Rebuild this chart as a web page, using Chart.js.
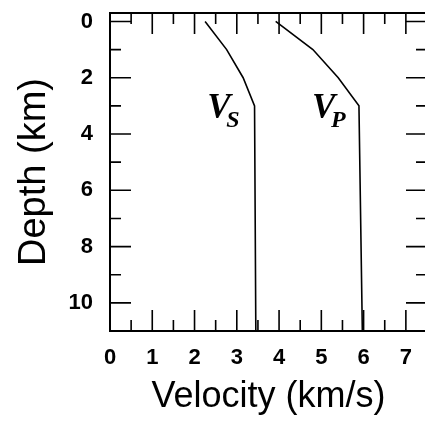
<!DOCTYPE html>
<html>
<head>
<meta charset="utf-8">
<script src="https://cdn.jsdelivr.net/npm/chart.js@4/dist/chart.umd.min.js"></script>
<style>
    html, body { margin: 0; padding: 0; background: #fff; overflow: hidden; }
    #profile-canvas { display: block; }
</style>
</head>
<body>
<canvas id="profile-canvas" width="440" height="425"></canvas>
<script>
/**==========================
     Velocity-depth profile
==========================*/

// shear wave velocity (km/s) against depth (km)
const vs_depth = [0, 1, 2, 3, 11];
const vs_velocity = [2.25, 2.76, 3.15, 3.42, 3.45];

// compressional wave velocity (km/s) against depth (km)
const vp_depth = [0, 1, 2, 3, 11];
const vp_velocity = [3.92, 4.8, 5.4, 5.89, 5.97];

// tick values
const velocity_ticks = [0, 1, 2, 3, 4, 5, 6, 7];
const velocity_minor_ticks = [0.5, 1.5, 2.5, 3.5, 4.5, 5.5, 6.5];
const depth_ticks = [0, 2, 4, 6, 8, 10];
const depth_minor_ticks = [1, 3, 5, 7, 9];

const major_tick_len = 21;
const minor_tick_len = 11;

function to_points(vel, depth) {
    return vel.map((v, i) => ({x: v, y: depth[i]}));
}

// frame, inward ticks on all four sides and the curve labels
const frame_plugin = {
    id: 'frame_plugin',
    afterDraw(chart) {
        let ctx = chart.ctx;
        let area = chart.chartArea;
        let xs = chart.scales.x;
        let ys = chart.scales.y;

        ctx.save();
        ctx.strokeStyle = '#000';
        ctx.lineWidth = 1.6;
        ctx.beginPath();

        let tick_x = (v, len) => {
            let px = xs.getPixelForValue(v);
            ctx.moveTo(px, area.bottom);
            ctx.lineTo(px, area.bottom - len);
            ctx.moveTo(px, area.top);
            ctx.lineTo(px, area.top + len);
        };
        let tick_y = (v, len) => {
            let py = ys.getPixelForValue(v);
            ctx.moveTo(area.left, py);
            ctx.lineTo(area.left + len, py);
            ctx.moveTo(area.right, py);
            ctx.lineTo(area.right - len, py);
        };

        velocity_ticks.forEach(v => tick_x(v, major_tick_len));
        velocity_minor_ticks.forEach(v => tick_x(v, minor_tick_len));
        depth_ticks.forEach(v => tick_y(v, major_tick_len));
        depth_minor_ticks.forEach(v => tick_y(v, minor_tick_len));
        ctx.stroke();

        ctx.lineWidth = 2;
        ctx.strokeRect(area.left, area.top, area.right - area.left, area.bottom - area.top);

        // curve labels with subscripts
        let draw_label = (sub, vel, depth) => {
            let px = xs.getPixelForValue(vel);
            let py = ys.getPixelForValue(depth);
            ctx.fillStyle = '#000';
            ctx.textAlign = 'left';
            ctx.textBaseline = 'alphabetic';
            ctx.font = 'italic bold 35px "Liberation Serif"';
            ctx.fillText('V', px, py);
            ctx.font = 'italic bold 24px "Liberation Serif"';
            ctx.fillText(sub, px + 19, py + 9);
        };
        draw_label('S', 2.3, 3.42);
        draw_label('P', 4.78, 3.42);

        ctx.restore();
    }
};

const tick_font = {family: '"Liberation Sans", Arial, sans-serif', size: 22, weight: 'bold'};
const x_title_font = {family: '"Liberation Sans", Arial, sans-serif', size: 36, weight: 'normal', lineHeight: 1.2};
const y_title_font = {family: '"Liberation Sans", Arial, sans-serif', size: 38, weight: 'normal', lineHeight: 1.2};

let chart = new Chart(document.getElementById('profile-canvas'), {
    type: 'scatter',
    data: {
        datasets: [
            {
                label: 'Vs',
                data: to_points(vs_velocity, vs_depth),
                showLine: true,
                borderColor: '#000',
                borderWidth: 1.6,
                pointRadius: 0,
                fill: false
            },
            {
                label: 'Vp',
                data: to_points(vp_velocity, vp_depth),
                showLine: true,
                borderColor: '#000',
                borderWidth: 1.6,
                pointRadius: 0,
                fill: false
            }
        ]
    },
    options: {
        responsive: false,
        animation: false,
        layout: {padding: {top: 13, right: 13, left: 0, bottom: 0}},
        plugins: {
            legend: {display: false},
            tooltip: {enabled: false}
        },
        scales: {
            x: {
                type: 'linear',
                position: 'bottom',
                min: 0,
                max: 7.5,
                grid: {display: false, drawTicks: false},
                border: {display: false},
                afterBuildTicks: s => { s.ticks = velocity_ticks.map(v => ({value: v})); },
                afterFit: s => {
                    s.height = 94;
                    s.paddingLeft = 0;
                    s.paddingRight = 0;
                },
                ticks: {color: '#000', font: tick_font, padding: 14, minRotation: 0, maxRotation: 0},
                title: {
                    display: true,
                    text: 'Velocity (km/s)',
                    color: '#000',
                    font: x_title_font,
                    padding: {top: 0, bottom: 6}
                }
            },
            y: {
                type: 'linear',
                position: 'left',
                reverse: true,
                min: -0.3,
                max: 11,
                grid: {display: false, drawTicks: false},
                border: {display: false},
                afterBuildTicks: s => { s.ticks = depth_ticks.map(v => ({value: v})); },
                afterFit: s => {
                    s.width = 110;
                    s.paddingTop = 0;
                    s.paddingBottom = 0;
                },
                ticks: {color: '#000', font: tick_font, padding: 17, minRotation: 0, maxRotation: 0},
                title: {
                    display: true,
                    text: 'Depth (km)',
                    color: '#000',
                    font: y_title_font,
                    padding: {top: 12, bottom: 0}
                }
            }
        }
    },
    plugins: [frame_plugin]
});
</script>
</body>
</html>
